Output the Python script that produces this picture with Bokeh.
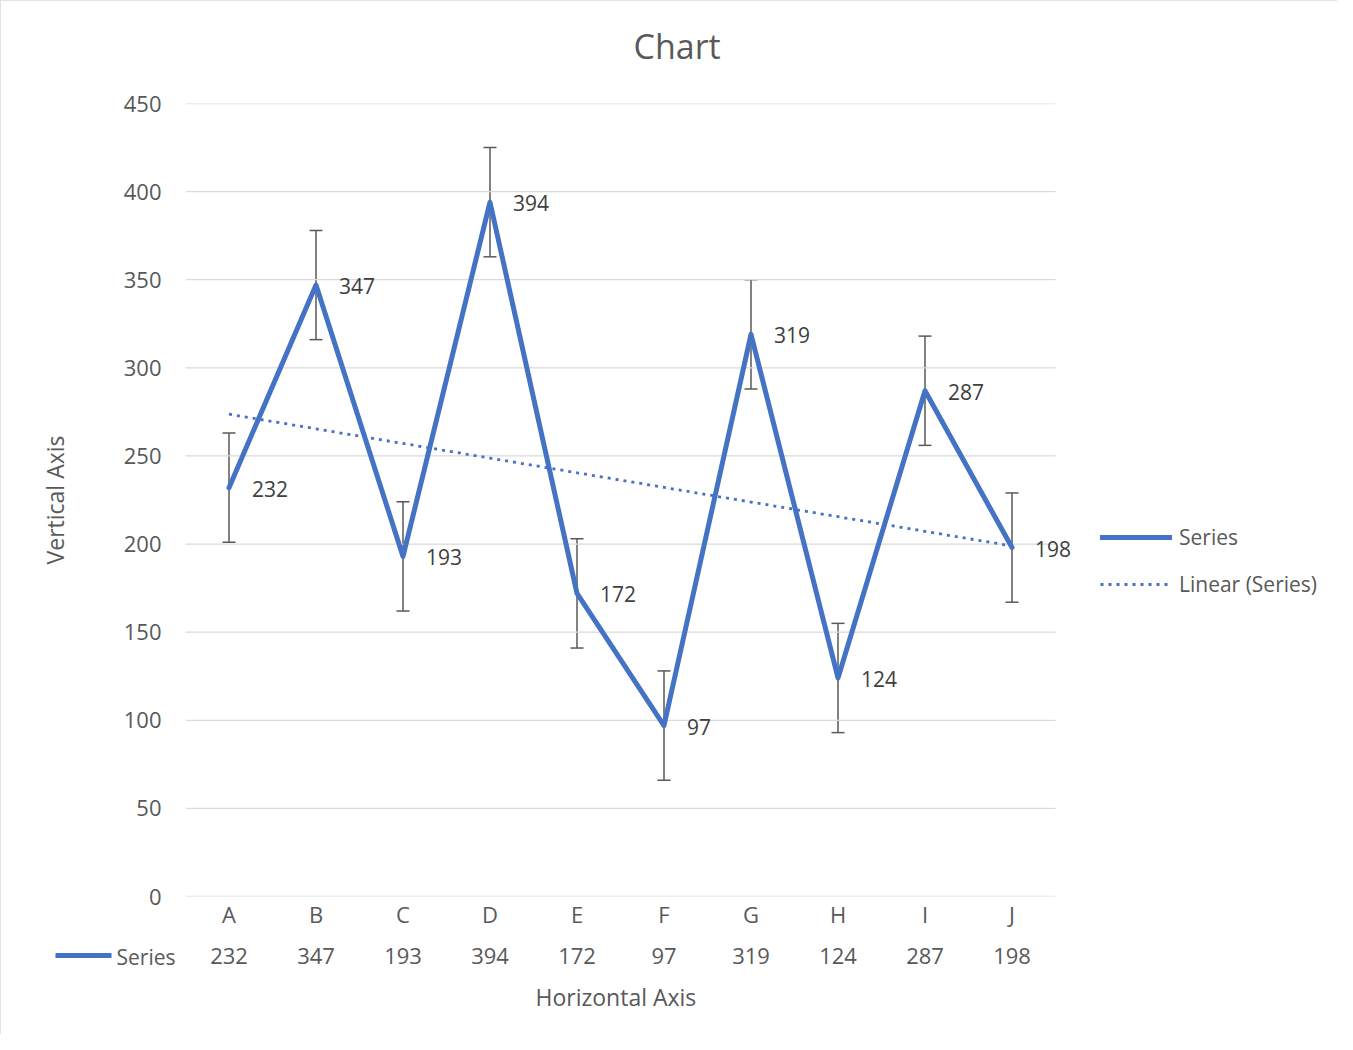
from bokeh.plotting import figure
from bokeh.models import (Range1d, LinearAxis, Legend, LegendItem, Whisker, TeeHead,
                          ColumnDataSource, LabelSet, FixedTicker, Title)
from bokeh.core.properties import value
from bokeh.embed import file_html
from bokeh.resources import INLINE
import numpy as np

# ---- data ----
categories = ["A", "B", "C", "D", "E", "F", "G", "H", "I", "J"]
values = [232, 347, 193, 394, 172, 97, 319, 124, 287, 198]
errors = [31, 31, 31, 31, 31, 31, 31, 31, 31, 31]
y_ticks = [0, 50, 100, 150, 200, 250, 300, 350, 400, 450]

n = len(categories)
xs = [i + 0.5 for i in range(n)]           # category centres on the x scale
# linear trendline (least squares over category index)
slope, intercept = np.polyfit(np.arange(1, n + 1), values, 1)
trend = list(slope * np.arange(1, n + 1) + intercept)

FONT = "Open Sans"
GRAY = "#595959"
BLUE = "#4472C4"

W, H = 1337, 1034
L, T = 185, 103
PLOT_R, FRAME_B = 1055, 896
ppc = (PLOT_R - L) / n          # pixels per category


def px_to_x(px):
    return (px - L) / ppc


p = figure(width=W, height=H,
           x_range=Range1d(0, px_to_x(W)),
           y_range=Range1d(0, 450), output_backend="svg", toolbar_location=None,
           min_border_left=L, min_border_right=0, min_border_top=T,
           min_border_bottom=H - FRAME_B, x_axis_type=None)
p.styles = {"outline": "2px solid #d9d9d9", "outline-offset": "-2px"}
p.outline_line_color = None
p.xgrid.visible = False
p.ygrid.visible = False

# horizontal gridlines across the plot area
p.segment(x0=[0] * len(y_ticks), x1=[n] * len(y_ticks), y0=y_ticks, y1=y_ticks,
          line_color="#d9d9d9", line_width=1.3)

# y axis
p.yaxis.ticker = FixedTicker(ticks=y_ticks)
p.yaxis.axis_line_color = None
p.yaxis.major_tick_line_color = None
p.yaxis.major_tick_out = 0
p.yaxis.major_tick_in = 0
p.yaxis.minor_tick_line_color = None
p.yaxis.major_label_text_font = FONT
p.yaxis.major_label_text_font_size = "22px"
p.yaxis.major_label_text_color = GRAY
p.yaxis.major_label_standoff = 24
p.yaxis.axis_label = "Vertical Axis"
p.yaxis.axis_label_text_font = FONT
p.yaxis.axis_label_text_font_size = "23px"
p.yaxis.axis_label_text_font_style = "normal"
p.yaxis.axis_label_text_color = GRAY
p.yaxis.axis_label_standoff = 50


def style_x(ax, standoff):
    ax.axis_line_color = None
    ax.major_tick_line_color = None
    ax.minor_tick_line_color = None
    ax.major_tick_out = 0
    ax.major_tick_in = 0
    ax.major_label_text_font = FONT
    ax.major_label_text_font_size = "22px"
    ax.major_label_text_color = GRAY
    ax.major_label_standoff = standoff


# ---- bottom panel stack ----
# 1. category axis
ax1 = LinearAxis(ticker=FixedTicker(ticks=xs),
                 major_label_overrides={x: c for x, c in zip(xs, categories)})
style_x(ax1, 2)
p.add_layout(ax1, "below")

# 2. blank spacer down to the data-table row
p.add_layout(Title(text=" ", text_font=FONT, text_font_size="12px", standoff=3.5), "below")

# 3. data-table legend key: blue key line and "Series" (zero-height slots)
p.add_layout(Title(text="\u2014" * 14, text_font="DejaVu Sans", text_font_size="4px",
                   text_color=BLUE, background_fill_color=BLUE, align="left",
                   offset=55 - L, vertical_align="middle", standoff=-5), "below")
p.add_layout(Title(text="Series", text_font=FONT, text_font_size="21px", text_color=GRAY,
                   text_font_style="normal", align="left", offset=116 - L,
                   vertical_align="middle", standoff=-29.5), "below")

# 4. data-table values row
ax2 = LinearAxis(ticker=FixedTicker(ticks=xs),
                 major_label_overrides={x: str(v) for x, v in zip(xs, values)})
style_x(ax2, -10)
p.add_layout(ax2, "below")

# 5. horizontal axis title
p.add_layout(Title(text="Horizontal Axis", align="left", offset=535 - L, text_font=FONT,
                   text_font_size="23px", text_font_style="normal", text_color=GRAY,
                   vertical_align="middle", standoff=27), "below")

src = ColumnDataSource(dict(x=xs, val=values, upper=[v + e for v, e in zip(values, errors)],
                            lower=[v - e for v, e in zip(values, errors)], trend=trend,
                            lab=[str(v) for v in values]))

tr = p.line("x", "trend", source=src, line_color=BLUE, line_width=2.8, line_dash="3 5")
ln = p.line("x", "val", source=src, line_color=BLUE, line_width=5, line_join="round", line_cap="round")

wh = Whisker(base="x", upper="upper", lower="lower", source=src, line_color=GRAY, line_width=1.5,
             upper_head=TeeHead(size=13, line_color=GRAY, line_width=1.5),
             lower_head=TeeHead(size=13, line_color=GRAY, line_width=1.5))
p.add_layout(wh)

labels = LabelSet(x="x", y="val", text="lab", source=src, x_offset=23, y_offset=-1,
                  text_font=value(FONT), text_font_size="21px", text_color="#404040",
                  text_baseline="middle", text_align="left")
p.add_layout(labels)

# legend on right (inside the wide frame)
leg = Legend(items=[LegendItem(label="Series", renderers=[ln]),
                    LegendItem(label="Linear (Series)", renderers=[tr])],
             location=(1100 - L, FRAME_B - 598))
leg.glyph_width = 72
leg.glyph_height = 24
leg.label_height = 24
leg.spacing = 19
leg.padding = 0
leg.margin = 0
leg.label_standoff = 7
leg.label_text_font = FONT
leg.label_text_font_size = "21px"
leg.label_text_color = GRAY
leg.border_line_color = None
leg.background_fill_alpha = 0
p.add_layout(leg, "center")

# title (a blank spacer title keeps it at the right height above the plot)
p.add_layout(Title(text=" ", text_font=FONT, text_font_size="20px", standoff=6), "above")
p.title.text = "Chart"
p.title.text_font = FONT
p.title.text_font_size = "34px"
p.title.text_font_style = "normal"
p.title.text_color = GRAY
p.title.align = "left"
p.title.offset = 633 - L
p.title.standoff = 0

open("out.html", "w").write(file_html(p, INLINE))
